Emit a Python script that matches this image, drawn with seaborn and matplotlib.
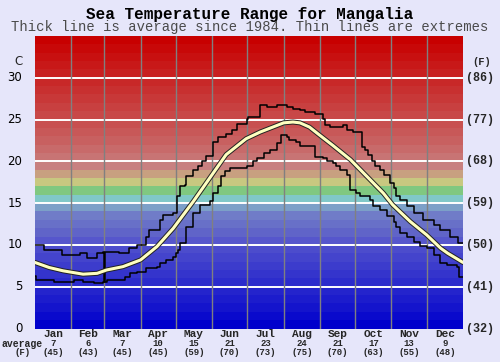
import numpy as np
import matplotlib
matplotlib.use("Agg")
import matplotlib.pyplot as plt
import matplotlib.patheffects as pe
import seaborn as sns

# month labels and monthly averages shown under the chart
months = ["Jan", "Feb", "Mar", "Apr", "May", "Jun", "Jul", "Aug", "Sep", "Oct", "Nov", "Dec"]
avg_c = [7, 6, 7, 10, 15, 21, 23, 24, 21, 17, 13, 9]
avg_f = [45, 43, 45, 45, 59, 70, 73, 75, 70, 63, 55, 48]
month_len = [31, 28, 31, 30, 31, 30, 31, 31, 30, 31, 30, 31]
c_ticks = [0, 5, 10, 15, 20, 25, 30]
f_ticks = [32, 41, 50, 59, 68, 77, 86]

# average line (day of year, deg C)
avg_days = [0, 12, 24, 41, 53, 61, 75, 90, 104, 118, 135, 150, 163, 180, 192, 212,
            220, 226, 234, 243, 254, 269, 283, 297, 305, 320, 334, 346, 352, 365]
avg_vals = [7.9, 7.3, 6.9, 6.5, 6.6, 7.0, 7.4, 8.2, 9.8, 12.0, 15.2, 18.2, 20.8, 22.7, 23.5, 24.6,
            24.7, 24.6, 24.1, 23.1, 21.9, 20.2, 18.2, 16.2, 14.8, 12.8, 11.2, 9.6, 9.0, 7.9]

# upper extreme (step changes)
max_days = [0, 8, 23, 38, 44, 53, 58, 59, 60, 72, 80, 87, 95, 97, 107, 109, 118, 121, 124, 128,
            129, 135, 139, 142, 146, 152, 156, 163, 168, 172, 181, 182, 192, 198, 206, 215,
            220, 226, 230, 239, 246, 247, 252, 263, 266, 271, 279, 281, 284, 287, 290, 294,
            298, 303, 306, 308, 311, 317, 323, 331, 340, 345, 354, 361, 365]
max_vals = [10.0, 9.4, 8.8, 9.0, 8.4, 9.0, 9.2, 5.6, 9.2, 9.0, 9.6, 10.0, 11.0, 11.8, 13.0, 13.6,
            13.8, 15.8, 17.0, 17.2, 18.2, 19.0, 19.4, 20.0, 20.6, 22.3, 22.9, 23.3, 23.7, 24.5,
            25.1, 25.3, 26.7, 26.5, 26.7, 26.5, 26.3, 26.1, 25.9, 25.7, 25.1, 24.3, 24.1, 24.3,
            23.7, 23.5, 21.7, 21.3, 20.7, 20.0, 19.4, 19.0, 18.4, 17.4, 16.8, 15.8, 15.4, 14.6,
            13.8, 13.0, 12.4, 11.8, 11.0, 10.2, 10.2]

# lower extreme (step changes)
min_days = [0, 1, 16, 33, 41, 50, 58, 61, 77, 81, 87, 95, 104, 107, 112, 118, 120, 122, 124,
            129, 135, 141, 149, 152, 156, 159, 162, 166, 181, 186, 189, 195, 200, 206, 210,
            215, 217, 223, 226, 239, 246, 249, 254, 257, 260, 266, 269, 274, 277, 286, 288,
            294, 300, 306, 308, 311, 317, 323, 328, 334, 340, 345, 351, 360, 362, 365]
min_vals = [6.3, 5.8, 5.6, 5.8, 5.6, 5.4, 5.6, 5.8, 6.2, 6.6, 6.8, 7.2, 7.4, 7.8, 8.2, 8.6, 9.0,
            9.4, 10.2, 12.2, 13.8, 14.8, 15.2, 16.2, 17.0, 18.2, 18.8, 19.2, 19.4, 20.0, 20.4,
            21.0, 21.4, 22.2, 23.1, 22.9, 22.5, 22.3, 21.8, 20.5, 20.4, 20.0, 19.8, 19.4, 19.0,
            18.4, 16.6, 16.2, 15.8, 15.4, 14.6, 14.2, 13.4, 12.8, 12.2, 11.4, 11.0, 10.4, 9.9,
            9.6, 8.8, 7.8, 7.6, 7.4, 6.2, 6.2]

# one colour per 1 degree band, 0 -> 35
band_colors = ["#0000cc", "#0a0acc", "#1414cc", "#1c1ccc", "#2424cc", "#2c2ccc", "#3434cc",
               "#3c3ccc", "#4444cc", "#4c4ccc", "#5656cc", "#6064c8", "#6870c8", "#707cc8",
               "#7ca0c8", "#80c8c8", "#80c880", "#c8c880", "#c8a080", "#c88080", "#c87474",
               "#c86a6a", "#c86060", "#c85858", "#c85050", "#c84848", "#c84040", "#c83838",
               "#c83030", "#c82828", "#c82020", "#c81818", "#c81010", "#c80808", "#c80000"]

sns.set_style("white")
bg = "#e6e6fa"
fig = plt.figure(figsize=(5, 3.62), dpi=100, facecolor=bg)
ax = fig.add_axes([0.07, 0.0925, 0.856, 0.8083])

for i, col in enumerate(band_colors):
    ax.axhspan(i, i + 1, color=col, lw=0, zorder=0)
for t in c_ticks[1:]:
    ax.axhline(t, color="white", lw=1.4, zorder=1)
for b in np.cumsum(month_len)[:-1]:
    ax.axvline(b, color="#808080", lw=1, zorder=1)

sns.lineplot(x=max_days, y=max_vals, ax=ax, color="black", lw=1.1, drawstyle="steps-post",
             estimator=None, sort=False, zorder=3)
sns.lineplot(x=min_days, y=min_vals, ax=ax, color="black", lw=1.1, drawstyle="steps-post",
             estimator=None, sort=False, zorder=3)
sns.lineplot(x=avg_days, y=avg_vals, ax=ax, color="#ffffc0", lw=2.2, estimator=None, sort=False,
             zorder=4, path_effects=[pe.Stroke(linewidth=3.6, foreground="#222222"), pe.Normal()])

ax.set_xlim(0, 365)
ax.set_ylim(0, 35)
ax.set_xticks([])
ax.set_yticks([])
ax.set_xlabel("")
ax.set_ylabel("")
for s in ax.spines.values():
    s.set_visible(False)

mono = "Liberation Mono"
fig.text(0.5, 0.961, "Sea Temperature Range for Mangalia", ha="center", va="center",
         family=mono, fontsize=11.5, fontweight="bold", color="black")
fig.text(0.5, 0.925, "Thick line is average since 1984. Thin lines are extremes", ha="center",
         va="center", family=mono, fontsize=10, color="#4a4a4a")

# left / right scales
for t in c_ticks:
    ax.text(-0.03, t / 35, str(t), transform=ax.transAxes, ha="right", va="center",
            family="DejaVu Sans", fontsize=8.5, color="black")
ax.text(-0.03, 0.911, "C", transform=ax.transAxes, ha="right", va="center",
        family="DejaVu Sans", fontsize=8.5)
for t, f in zip(c_ticks, f_ticks):
    ax.text(1.008, t / 35, f"({f})", transform=ax.transAxes, ha="left", va="center",
            family=mono, fontsize=8.5, fontweight="bold")
ax.text(1.021, 0.911, "(F)", transform=ax.transAxes, ha="left", va="center",
        family=mono, fontsize=7.5, fontweight="bold")

# month rows below
mid = np.cumsum(month_len) - np.array(month_len) / 2
trans = ax.get_xaxis_transform()
for m, x, c, f in zip(months, mid, avg_c, avg_f):
    ax.text(x, -0.019, m, transform=trans, ha="center", va="center", family=mono,
            fontsize=8, fontweight="bold")
    ax.text(x, -0.051, str(c), transform=trans, ha="center", va="center", family=mono,
            fontsize=6.5, fontweight="bold")
    ax.text(x, -0.082, f"({f})", transform=trans, ha="center", va="center", family=mono,
            fontsize=6.5, fontweight="bold")
fig.text(0.044, 0.051, "average", ha="center", va="center", family=mono, fontsize=7,
         fontweight="bold")
fig.text(0.045, 0.026, "(F)", ha="center", va="center", family=mono, fontsize=6.5,
         fontweight="bold")

fig.savefig("out.png", dpi=100, facecolor=bg)
